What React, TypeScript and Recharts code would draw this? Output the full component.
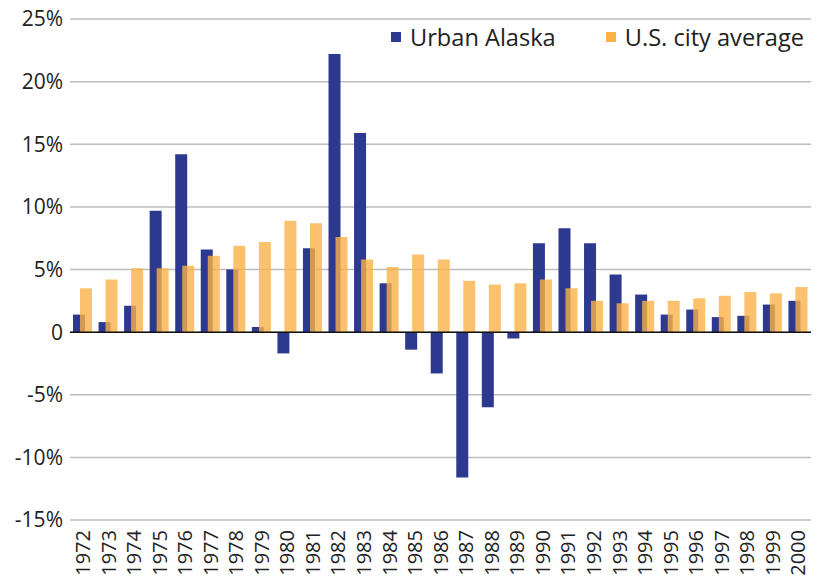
import { BarChart, Bar, XAxis, YAxis, CartesianGrid, Legend, ReferenceLine } from "recharts";

const years = [
  "1972", "1973", "1974", "1975", "1976", "1977", "1978", "1979", "1980", "1981",
  "1982", "1983", "1984", "1985", "1986", "1987", "1988", "1989", "1990", "1991",
  "1992", "1993", "1994", "1995", "1996", "1997", "1998", "1999", "2000",
];

const urbanAlaska = [
  1.4, 0.8, 2.1, 9.7, 14.2, 6.6, 5.0, 0.4, -1.7, 6.7,
  22.2, 15.9, 3.9, -1.4, -3.3, -11.6, -6.0, -0.5, 7.1, 8.3,
  7.1, 4.6, 3.0, 1.4, 1.8, 1.2, 1.3, 2.2, 2.5,
];

const usCityAverage = [
  3.5, 4.2, 5.1, 5.1, 5.3, 6.1, 6.9, 7.2, 8.9, 8.7,
  7.6, 5.8, 5.2, 6.2, 5.8, 4.1, 3.8, 3.9, 4.2, 3.5,
  2.5, 2.3, 2.5, 2.5, 2.7, 2.9, 3.2, 3.1, 3.6,
];

const yTicks = [-15, -10, -5, 0, 5, 10, 15, 20, 25];

const seriesNames = ["Urban Alaska", "U.S. city average"];

const BLUE = "#2d398f";
const ORANGE = "#fab247";
const FONT = "'Open Sans', sans-serif";

const data = years.map((year, i) => ({
  year,
  alaska: urbanAlaska[i],
  us: usCityAverage[i],
}));

function YearTick({ x, y, payload }: any) {
  return (
    <g transform={`translate(${x},${y})`}>
      <text
        transform="rotate(-90)"
        textAnchor="end"
        dy="0.36em"
        fill="#222"
        fontSize={20}
        fontFamily={FONT}
      >
        {payload.value}
      </text>
    </g>
  );
}

function LegendBox({ payload }: any) {
  // keep the series order of the original legend
  const items = seriesNames
    .map((name) => (payload || []).find((p: any) => p.value === name))
    .filter(Boolean);
  return (
    <div style={{ display: "flex", alignItems: "center", fontFamily: FONT, fontSize: 23.6, lineHeight: "28px", color: "#222" }}>
      {items.map((p: any, i: number) => (
        <div key={i} style={{ display: "flex", alignItems: "center", marginRight: i === 0 ? 50 : 0 }}>
          <span style={{ width: 10, height: 10, background: p.color, display: "inline-block", marginRight: 9 }} />
          <span style={{ whiteSpace: "nowrap" }}>{p.value}</span>
        </div>
      ))}
    </div>
  );
}

export default function App() {
  return (
    <div style={{ position: "absolute", left: 0, top: 0, width: 820, height: 578, background: "#fff" }}>
      <BarChart
        width={820}
        height={578}
        data={data}
        margin={{ top: 19, right: 9, left: -2, bottom: 0 }}
        barGap={-5}
      >
        <CartesianGrid vertical={false} stroke="#bdbdbd" strokeWidth={1.5} />
        <XAxis
          dataKey="year"
          interval={0}
          height={58}
          axisLine={false}
          tickLine={false}
          tickSize={0}
          tickMargin={10}
          tick={<YearTick />}
        />
        <YAxis
          width={72}
          domain={[-15, 25]}
          ticks={yTicks}
          axisLine={false}
          tickLine={false}
          tickSize={0}
          tickMargin={7}
          tickFormatter={(v) => (v === 0 ? "0" : `${v}%`)}
          tick={{ fontSize: 21, fill: "#222", fontFamily: FONT }}
        />
        <ReferenceLine y={0} stroke="#111" strokeWidth={1.5} />
        <Legend
          layout="horizontal"
          verticalAlign="middle"
          align="center"
          wrapperStyle={{ top: 23, left: 391, width: "auto", height: "auto" }}
          content={<LegendBox />}
        />
        <Bar dataKey="alaska" name={seriesNames[0]} fill={BLUE} barSize={12} isAnimationActive={false} />
        <Bar dataKey="us" name={seriesNames[1]} fill={ORANGE} fillOpacity={0.8} barSize={12} isAnimationActive={false} />
      </BarChart>
    </div>
  );
}
